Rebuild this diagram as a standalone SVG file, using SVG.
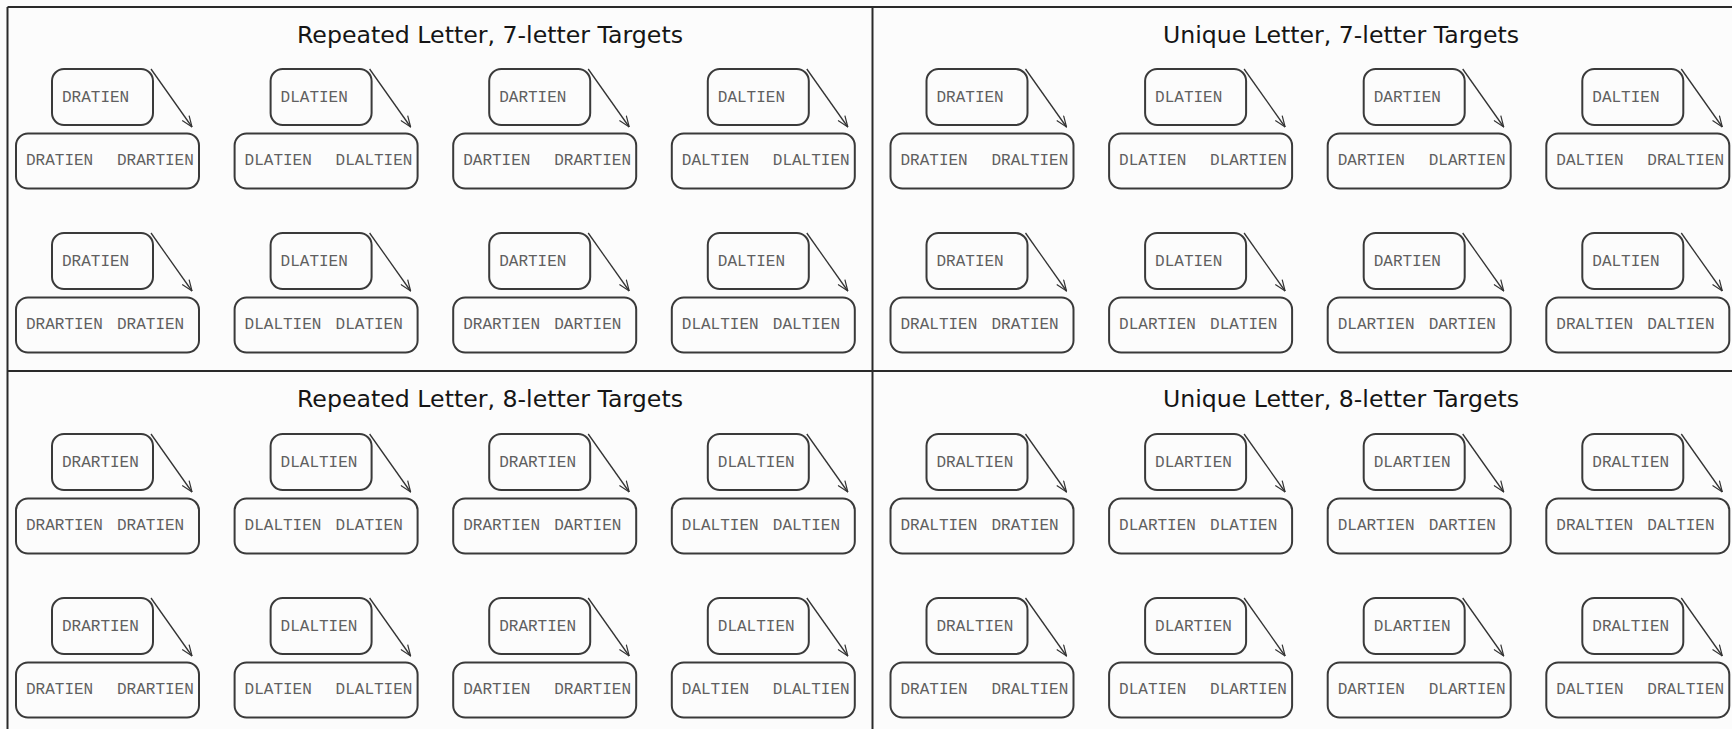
<svg xmlns="http://www.w3.org/2000/svg" width="1732" height="729" viewBox="0 0 1732 729">
  <style>
    .bg { fill: #fcfcfc; }
    .frame { stroke: #2a2a2a; stroke-width: 2; fill: none; }
    .title { font-family: "DejaVu Sans", Verdana, sans-serif; font-size: 23px; fill: #151515; }
    .box { fill: #fcfcfc; stroke: #3a3a3a; stroke-width: 2; }
    .word { font-family: "Liberation Mono", "Courier New", monospace; font-size: 16px; fill: #606060; }
    .arrow { stroke: #333333; stroke-width: 1.3; fill: none; marker-end: url(#vhead); }
  </style>
  <defs>
    <marker id="vhead" viewBox="0 0 12 10" refX="11.5" refY="5" markerWidth="12" markerHeight="10" markerUnits="userSpaceOnUse" orient="auto">
      <path d="M0.5,0.8 L11.5,5 L0.5,9.2" fill="none" stroke="#333333" stroke-width="1.2"/>
    </marker>
  </defs>

  <rect class="bg" x="0" y="0" width="1732" height="729"/>

  <!-- quadrant frame -->
  <g id="frame">
    <line class="frame" x1="7.5" y1="7" x2="1732" y2="7"/>
    <line class="frame" x1="7.5" y1="7" x2="7.5" y2="729"/>
    <line class="frame" x1="872.5" y1="7" x2="872.5" y2="729"/>
    <line class="frame" x1="7.5" y1="371" x2="1732" y2="371"/>
  </g>

  <!-- quadrant titles -->
  <g id="titles">
    <text class="title" x="297" y="43" textLength="386" lengthAdjust="spacingAndGlyphs">Repeated Letter, 7-letter Targets</text>
    <text class="title" x="1163" y="43" textLength="356" lengthAdjust="spacingAndGlyphs">Unique Letter, 7-letter Targets</text>
    <text class="title" x="297" y="407" textLength="386" lengthAdjust="spacingAndGlyphs">Repeated Letter, 8-letter Targets</text>
    <text class="title" x="1163" y="407" textLength="356" lengthAdjust="spacingAndGlyphs">Unique Letter, 8-letter Targets</text>
  </g>

  <!-- ===== Repeated Letter, 7-letter Targets ===== -->
  <g id="q1-r1-c1-src" transform="translate(52,69)"><rect class="box" width="101" height="56" rx="12"/><text class="word" x="10" y="33">DRATIEN</text></g>
  <g id="q1-r1-c1-tgt" transform="translate(16,133.5)"><rect class="box" width="183" height="55" rx="12"/><text class="word" x="10" y="31">DRATIEN</text><text class="word" x="101" y="31">DRARTIEN</text></g>
  <g id="q1-r1-c2-src" transform="translate(270.6,69)"><rect class="box" width="101" height="56" rx="12"/><text class="word" x="10" y="33">DLATIEN</text></g>
  <g id="q1-r1-c2-tgt" transform="translate(234.6,133.5)"><rect class="box" width="183" height="55" rx="12"/><text class="word" x="10" y="31">DLATIEN</text><text class="word" x="101" y="31">DLALTIEN</text></g>
  <g id="q1-r1-c3-src" transform="translate(489.2,69)"><rect class="box" width="101" height="56" rx="12"/><text class="word" x="10" y="33">DARTIEN</text></g>
  <g id="q1-r1-c3-tgt" transform="translate(453.2,133.5)"><rect class="box" width="183" height="55" rx="12"/><text class="word" x="10" y="31">DARTIEN</text><text class="word" x="101" y="31">DRARTIEN</text></g>
  <g id="q1-r1-c4-src" transform="translate(707.8,69)"><rect class="box" width="101" height="56" rx="12"/><text class="word" x="10" y="33">DALTIEN</text></g>
  <g id="q1-r1-c4-tgt" transform="translate(671.8,133.5)"><rect class="box" width="183" height="55" rx="12"/><text class="word" x="10" y="31">DALTIEN</text><text class="word" x="101" y="31">DLALTIEN</text></g>

  <g id="q1-r2-c1-src" transform="translate(52,233)"><rect class="box" width="101" height="56" rx="12"/><text class="word" x="10" y="33">DRATIEN</text></g>
  <g id="q1-r2-c1-tgt" transform="translate(16,297.5)"><rect class="box" width="183" height="55" rx="12"/><text class="word" x="10" y="31">DRARTIEN</text><text class="word" x="101" y="31">DRATIEN</text></g>
  <g id="q1-r2-c2-src" transform="translate(270.6,233)"><rect class="box" width="101" height="56" rx="12"/><text class="word" x="10" y="33">DLATIEN</text></g>
  <g id="q1-r2-c2-tgt" transform="translate(234.6,297.5)"><rect class="box" width="183" height="55" rx="12"/><text class="word" x="10" y="31">DLALTIEN</text><text class="word" x="101" y="31">DLATIEN</text></g>
  <g id="q1-r2-c3-src" transform="translate(489.2,233)"><rect class="box" width="101" height="56" rx="12"/><text class="word" x="10" y="33">DARTIEN</text></g>
  <g id="q1-r2-c3-tgt" transform="translate(453.2,297.5)"><rect class="box" width="183" height="55" rx="12"/><text class="word" x="10" y="31">DRARTIEN</text><text class="word" x="101" y="31">DARTIEN</text></g>
  <g id="q1-r2-c4-src" transform="translate(707.8,233)"><rect class="box" width="101" height="56" rx="12"/><text class="word" x="10" y="33">DALTIEN</text></g>
  <g id="q1-r2-c4-tgt" transform="translate(671.8,297.5)"><rect class="box" width="183" height="55" rx="12"/><text class="word" x="10" y="31">DLALTIEN</text><text class="word" x="101" y="31">DALTIEN</text></g>

  <!-- ===== Unique Letter, 7-letter Targets ===== -->
  <g id="q2-r1-c1-src" transform="translate(926.5,69)"><rect class="box" width="101" height="56" rx="12"/><text class="word" x="10" y="33">DRATIEN</text></g>
  <g id="q2-r1-c1-tgt" transform="translate(890.5,133.5)"><rect class="box" width="183" height="55" rx="12"/><text class="word" x="10" y="31">DRATIEN</text><text class="word" x="101" y="31">DRALTIEN</text></g>
  <g id="q2-r1-c2-src" transform="translate(1145.1,69)"><rect class="box" width="101" height="56" rx="12"/><text class="word" x="10" y="33">DLATIEN</text></g>
  <g id="q2-r1-c2-tgt" transform="translate(1109.1,133.5)"><rect class="box" width="183" height="55" rx="12"/><text class="word" x="10" y="31">DLATIEN</text><text class="word" x="101" y="31">DLARTIEN</text></g>
  <g id="q2-r1-c3-src" transform="translate(1363.7,69)"><rect class="box" width="101" height="56" rx="12"/><text class="word" x="10" y="33">DARTIEN</text></g>
  <g id="q2-r1-c3-tgt" transform="translate(1327.7,133.5)"><rect class="box" width="183" height="55" rx="12"/><text class="word" x="10" y="31">DARTIEN</text><text class="word" x="101" y="31">DLARTIEN</text></g>
  <g id="q2-r1-c4-src" transform="translate(1582.3,69)"><rect class="box" width="101" height="56" rx="12"/><text class="word" x="10" y="33">DALTIEN</text></g>
  <g id="q2-r1-c4-tgt" transform="translate(1546.3,133.5)"><rect class="box" width="183" height="55" rx="12"/><text class="word" x="10" y="31">DALTIEN</text><text class="word" x="101" y="31">DRALTIEN</text></g>

  <g id="q2-r2-c1-src" transform="translate(926.5,233)"><rect class="box" width="101" height="56" rx="12"/><text class="word" x="10" y="33">DRATIEN</text></g>
  <g id="q2-r2-c1-tgt" transform="translate(890.5,297.5)"><rect class="box" width="183" height="55" rx="12"/><text class="word" x="10" y="31">DRALTIEN</text><text class="word" x="101" y="31">DRATIEN</text></g>
  <g id="q2-r2-c2-src" transform="translate(1145.1,233)"><rect class="box" width="101" height="56" rx="12"/><text class="word" x="10" y="33">DLATIEN</text></g>
  <g id="q2-r2-c2-tgt" transform="translate(1109.1,297.5)"><rect class="box" width="183" height="55" rx="12"/><text class="word" x="10" y="31">DLARTIEN</text><text class="word" x="101" y="31">DLATIEN</text></g>
  <g id="q2-r2-c3-src" transform="translate(1363.7,233)"><rect class="box" width="101" height="56" rx="12"/><text class="word" x="10" y="33">DARTIEN</text></g>
  <g id="q2-r2-c3-tgt" transform="translate(1327.7,297.5)"><rect class="box" width="183" height="55" rx="12"/><text class="word" x="10" y="31">DLARTIEN</text><text class="word" x="101" y="31">DARTIEN</text></g>
  <g id="q2-r2-c4-src" transform="translate(1582.3,233)"><rect class="box" width="101" height="56" rx="12"/><text class="word" x="10" y="33">DALTIEN</text></g>
  <g id="q2-r2-c4-tgt" transform="translate(1546.3,297.5)"><rect class="box" width="183" height="55" rx="12"/><text class="word" x="10" y="31">DRALTIEN</text><text class="word" x="101" y="31">DALTIEN</text></g>

  <!-- ===== Repeated Letter, 8-letter Targets ===== -->
  <g id="q3-r1-c1-src" transform="translate(52,434)"><rect class="box" width="101" height="56" rx="12"/><text class="word" x="10" y="33">DRARTIEN</text></g>
  <g id="q3-r1-c1-tgt" transform="translate(16,498.5)"><rect class="box" width="183" height="55" rx="12"/><text class="word" x="10" y="31">DRARTIEN</text><text class="word" x="101" y="31">DRATIEN</text></g>
  <g id="q3-r1-c2-src" transform="translate(270.6,434)"><rect class="box" width="101" height="56" rx="12"/><text class="word" x="10" y="33">DLALTIEN</text></g>
  <g id="q3-r1-c2-tgt" transform="translate(234.6,498.5)"><rect class="box" width="183" height="55" rx="12"/><text class="word" x="10" y="31">DLALTIEN</text><text class="word" x="101" y="31">DLATIEN</text></g>
  <g id="q3-r1-c3-src" transform="translate(489.2,434)"><rect class="box" width="101" height="56" rx="12"/><text class="word" x="10" y="33">DRARTIEN</text></g>
  <g id="q3-r1-c3-tgt" transform="translate(453.2,498.5)"><rect class="box" width="183" height="55" rx="12"/><text class="word" x="10" y="31">DRARTIEN</text><text class="word" x="101" y="31">DARTIEN</text></g>
  <g id="q3-r1-c4-src" transform="translate(707.8,434)"><rect class="box" width="101" height="56" rx="12"/><text class="word" x="10" y="33">DLALTIEN</text></g>
  <g id="q3-r1-c4-tgt" transform="translate(671.8,498.5)"><rect class="box" width="183" height="55" rx="12"/><text class="word" x="10" y="31">DLALTIEN</text><text class="word" x="101" y="31">DALTIEN</text></g>

  <g id="q3-r2-c1-src" transform="translate(52,598)"><rect class="box" width="101" height="56" rx="12"/><text class="word" x="10" y="33">DRARTIEN</text></g>
  <g id="q3-r2-c1-tgt" transform="translate(16,662.5)"><rect class="box" width="183" height="55" rx="12"/><text class="word" x="10" y="31">DRATIEN</text><text class="word" x="101" y="31">DRARTIEN</text></g>
  <g id="q3-r2-c2-src" transform="translate(270.6,598)"><rect class="box" width="101" height="56" rx="12"/><text class="word" x="10" y="33">DLALTIEN</text></g>
  <g id="q3-r2-c2-tgt" transform="translate(234.6,662.5)"><rect class="box" width="183" height="55" rx="12"/><text class="word" x="10" y="31">DLATIEN</text><text class="word" x="101" y="31">DLALTIEN</text></g>
  <g id="q3-r2-c3-src" transform="translate(489.2,598)"><rect class="box" width="101" height="56" rx="12"/><text class="word" x="10" y="33">DRARTIEN</text></g>
  <g id="q3-r2-c3-tgt" transform="translate(453.2,662.5)"><rect class="box" width="183" height="55" rx="12"/><text class="word" x="10" y="31">DARTIEN</text><text class="word" x="101" y="31">DRARTIEN</text></g>
  <g id="q3-r2-c4-src" transform="translate(707.8,598)"><rect class="box" width="101" height="56" rx="12"/><text class="word" x="10" y="33">DLALTIEN</text></g>
  <g id="q3-r2-c4-tgt" transform="translate(671.8,662.5)"><rect class="box" width="183" height="55" rx="12"/><text class="word" x="10" y="31">DALTIEN</text><text class="word" x="101" y="31">DLALTIEN</text></g>

  <!-- ===== Unique Letter, 8-letter Targets ===== -->
  <g id="q4-r1-c1-src" transform="translate(926.5,434)"><rect class="box" width="101" height="56" rx="12"/><text class="word" x="10" y="33">DRALTIEN</text></g>
  <g id="q4-r1-c1-tgt" transform="translate(890.5,498.5)"><rect class="box" width="183" height="55" rx="12"/><text class="word" x="10" y="31">DRALTIEN</text><text class="word" x="101" y="31">DRATIEN</text></g>
  <g id="q4-r1-c2-src" transform="translate(1145.1,434)"><rect class="box" width="101" height="56" rx="12"/><text class="word" x="10" y="33">DLARTIEN</text></g>
  <g id="q4-r1-c2-tgt" transform="translate(1109.1,498.5)"><rect class="box" width="183" height="55" rx="12"/><text class="word" x="10" y="31">DLARTIEN</text><text class="word" x="101" y="31">DLATIEN</text></g>
  <g id="q4-r1-c3-src" transform="translate(1363.7,434)"><rect class="box" width="101" height="56" rx="12"/><text class="word" x="10" y="33">DLARTIEN</text></g>
  <g id="q4-r1-c3-tgt" transform="translate(1327.7,498.5)"><rect class="box" width="183" height="55" rx="12"/><text class="word" x="10" y="31">DLARTIEN</text><text class="word" x="101" y="31">DARTIEN</text></g>
  <g id="q4-r1-c4-src" transform="translate(1582.3,434)"><rect class="box" width="101" height="56" rx="12"/><text class="word" x="10" y="33">DRALTIEN</text></g>
  <g id="q4-r1-c4-tgt" transform="translate(1546.3,498.5)"><rect class="box" width="183" height="55" rx="12"/><text class="word" x="10" y="31">DRALTIEN</text><text class="word" x="101" y="31">DALTIEN</text></g>

  <g id="q4-r2-c1-src" transform="translate(926.5,598)"><rect class="box" width="101" height="56" rx="12"/><text class="word" x="10" y="33">DRALTIEN</text></g>
  <g id="q4-r2-c1-tgt" transform="translate(890.5,662.5)"><rect class="box" width="183" height="55" rx="12"/><text class="word" x="10" y="31">DRATIEN</text><text class="word" x="101" y="31">DRALTIEN</text></g>
  <g id="q4-r2-c2-src" transform="translate(1145.1,598)"><rect class="box" width="101" height="56" rx="12"/><text class="word" x="10" y="33">DLARTIEN</text></g>
  <g id="q4-r2-c2-tgt" transform="translate(1109.1,662.5)"><rect class="box" width="183" height="55" rx="12"/><text class="word" x="10" y="31">DLATIEN</text><text class="word" x="101" y="31">DLARTIEN</text></g>
  <g id="q4-r2-c3-src" transform="translate(1363.7,598)"><rect class="box" width="101" height="56" rx="12"/><text class="word" x="10" y="33">DLARTIEN</text></g>
  <g id="q4-r2-c3-tgt" transform="translate(1327.7,662.5)"><rect class="box" width="183" height="55" rx="12"/><text class="word" x="10" y="31">DARTIEN</text><text class="word" x="101" y="31">DLARTIEN</text></g>
  <g id="q4-r2-c4-src" transform="translate(1582.3,598)"><rect class="box" width="101" height="56" rx="12"/><text class="word" x="10" y="33">DRALTIEN</text></g>
  <g id="q4-r2-c4-tgt" transform="translate(1546.3,662.5)"><rect class="box" width="183" height="55" rx="12"/><text class="word" x="10" y="31">DALTIEN</text><text class="word" x="101" y="31">DRALTIEN</text></g>

  <!-- connectors: source word box corner to target pair box -->
  <g id="connectors">
    <line class="arrow" x1="151" y1="69" x2="192" y2="127"/>
    <line class="arrow" x1="369.6" y1="69" x2="410.6" y2="127"/>
    <line class="arrow" x1="588.2" y1="69" x2="629.2" y2="127"/>
    <line class="arrow" x1="806.8" y1="69" x2="847.8" y2="127"/>
    <line class="arrow" x1="1025.5" y1="69" x2="1066.5" y2="127"/>
    <line class="arrow" x1="1244.1" y1="69" x2="1285.1" y2="127"/>
    <line class="arrow" x1="1462.7" y1="69" x2="1503.7" y2="127"/>
    <line class="arrow" x1="1681.3" y1="69" x2="1722.3" y2="127"/>

    <line class="arrow" x1="151" y1="233" x2="192" y2="291"/>
    <line class="arrow" x1="369.6" y1="233" x2="410.6" y2="291"/>
    <line class="arrow" x1="588.2" y1="233" x2="629.2" y2="291"/>
    <line class="arrow" x1="806.8" y1="233" x2="847.8" y2="291"/>
    <line class="arrow" x1="1025.5" y1="233" x2="1066.5" y2="291"/>
    <line class="arrow" x1="1244.1" y1="233" x2="1285.1" y2="291"/>
    <line class="arrow" x1="1462.7" y1="233" x2="1503.7" y2="291"/>
    <line class="arrow" x1="1681.3" y1="233" x2="1722.3" y2="291"/>

    <line class="arrow" x1="151" y1="434" x2="192" y2="492"/>
    <line class="arrow" x1="369.6" y1="434" x2="410.6" y2="492"/>
    <line class="arrow" x1="588.2" y1="434" x2="629.2" y2="492"/>
    <line class="arrow" x1="806.8" y1="434" x2="847.8" y2="492"/>
    <line class="arrow" x1="1025.5" y1="434" x2="1066.5" y2="492"/>
    <line class="arrow" x1="1244.1" y1="434" x2="1285.1" y2="492"/>
    <line class="arrow" x1="1462.7" y1="434" x2="1503.7" y2="492"/>
    <line class="arrow" x1="1681.3" y1="434" x2="1722.3" y2="492"/>

    <line class="arrow" x1="151" y1="598" x2="192" y2="656"/>
    <line class="arrow" x1="369.6" y1="598" x2="410.6" y2="656"/>
    <line class="arrow" x1="588.2" y1="598" x2="629.2" y2="656"/>
    <line class="arrow" x1="806.8" y1="598" x2="847.8" y2="656"/>
    <line class="arrow" x1="1025.5" y1="598" x2="1066.5" y2="656"/>
    <line class="arrow" x1="1244.1" y1="598" x2="1285.1" y2="656"/>
    <line class="arrow" x1="1462.7" y1="598" x2="1503.7" y2="656"/>
    <line class="arrow" x1="1681.3" y1="598" x2="1722.3" y2="656"/>
  </g>
</svg>
